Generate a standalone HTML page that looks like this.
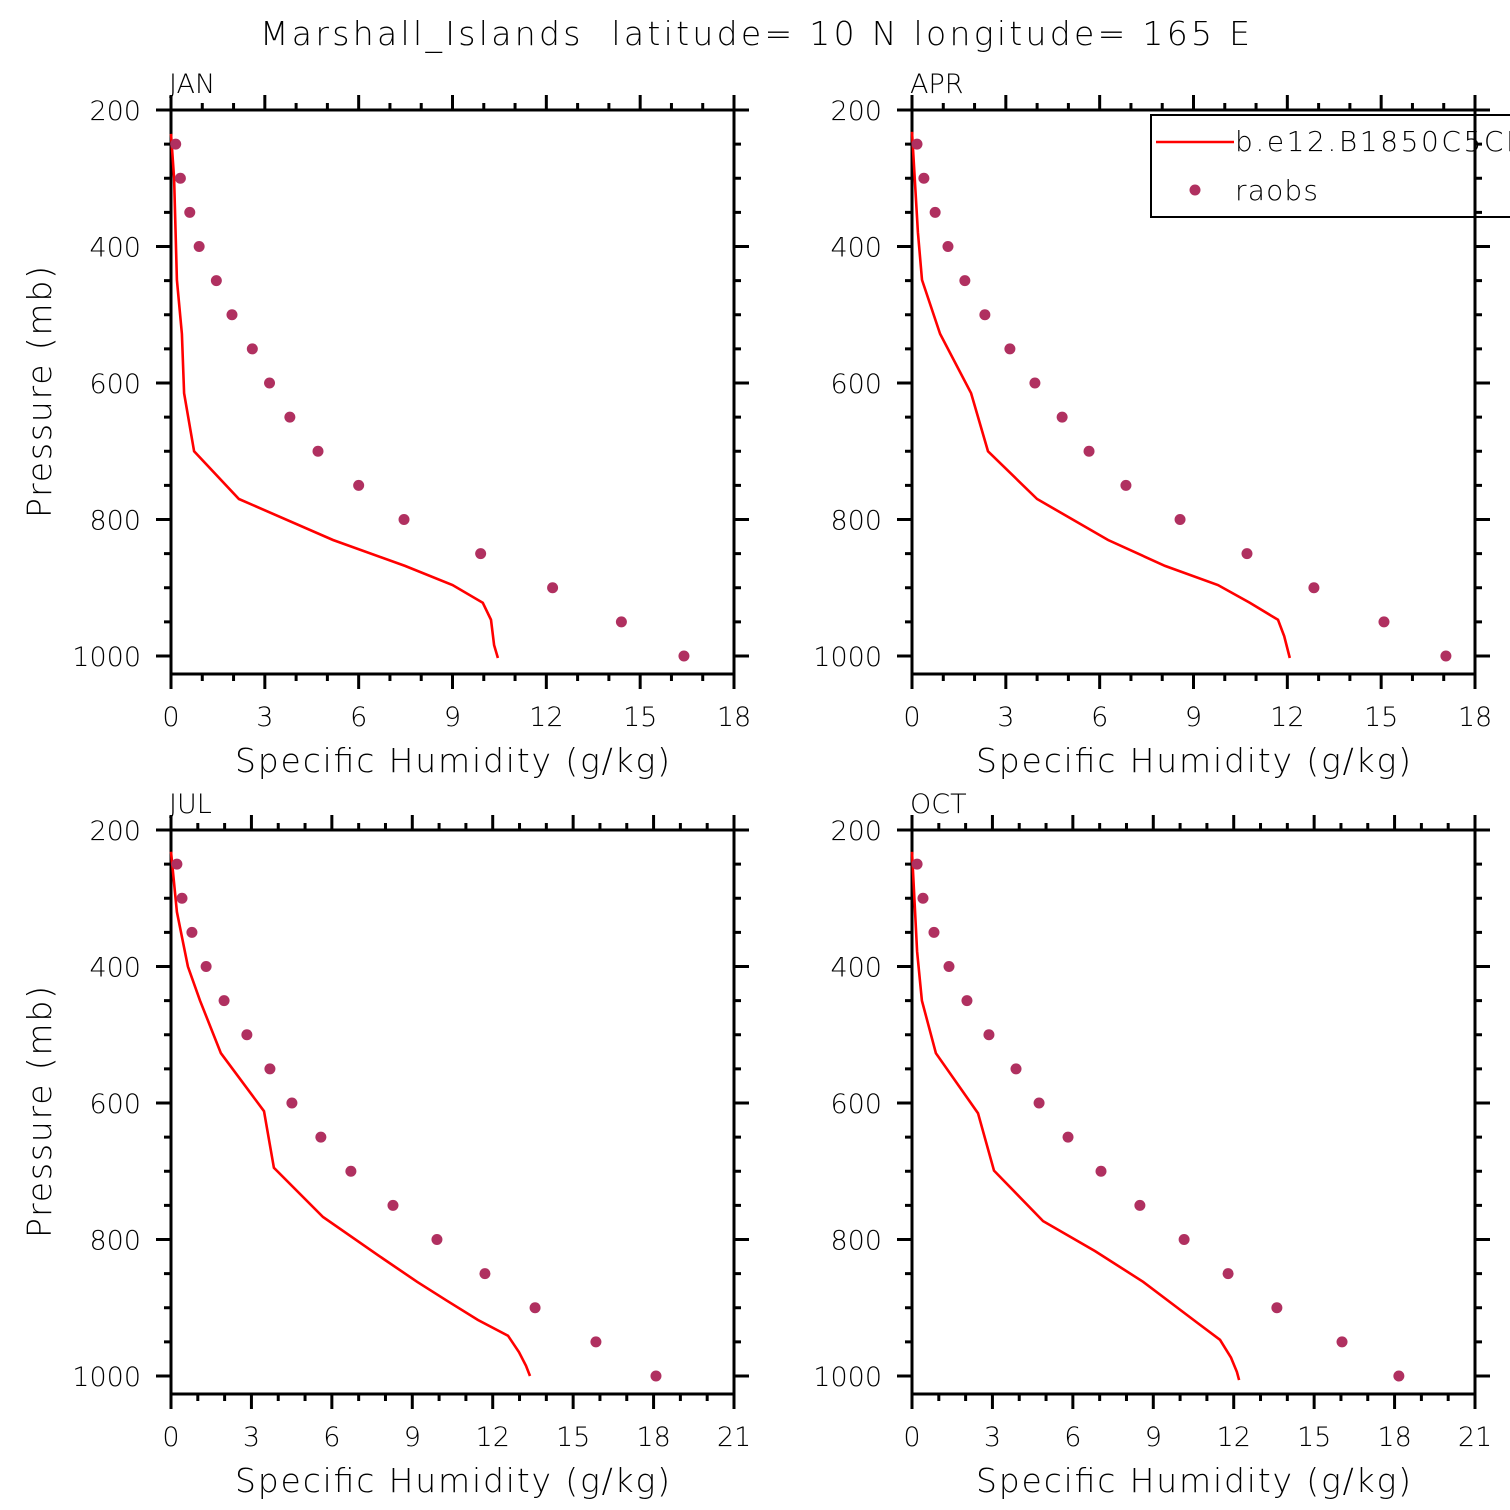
<!DOCTYPE html>
<html><head><meta charset="utf-8"><style>
html,body{margin:0;padding:0;background:#fff;}
svg{display:block;font-family:"DejaVu Sans","Liberation Sans",sans-serif;}
</style></head><body>
<svg id="chart" width="1510" height="1510" viewBox="0 0 1510 1510" xmlns="http://www.w3.org/2000/svg">
<rect width="1510" height="1510" fill="#fff"/>
<text x="260" y="45" font-size="33" font-weight="300" xml:space="preserve" textLength="990" lengthAdjust="spacing">Marshall_Islands  latitude= 10 N longitude= 165 E</text>
</svg>
<script>
const janObsP=[250,300,350,400,450,500,550,600,650,700,750,800,850,900,950,1000];
const janObsQ=[0.15,0.3,0.6,0.9,1.45,1.95,2.6,3.15,3.8,4.7,6.0,7.45,9.9,12.2,14.4,16.4];
const janModP=[235,300,449,528,615,700,770,830,868,896,922,947,984,1003];
const janModQ=[0.0,0.1,0.19,0.35,0.42,0.74,2.17,5.18,7.48,9.0,9.97,10.23,10.33,10.45];
const aprObsP=[250,300,350,400,450,500,550,600,650,700,750,800,850,900,950,1000];
const aprObsQ=[0.16,0.38,0.74,1.15,1.69,2.33,3.13,3.93,4.8,5.66,6.84,8.57,10.71,12.85,15.09,17.07];
const aprModP=[232,379,449,528,615,700,770,830,868,896,922,947,971,1003];
const aprModQ=[0,0.19,0.32,0.9,1.89,2.43,4.0,6.27,8.09,9.78,10.8,11.7,11.9,12.08];
const julObsP=[250,300,350,400,450,500,550,600,650,700,750,800,850,900,950,1000];
const julObsQ=[0.22,0.41,0.78,1.31,1.98,2.83,3.69,4.51,5.59,6.71,8.28,9.92,11.71,13.58,15.85,18.09];
const julModP=[232,320,400,450,527,612,695,767,823,862,889,918,941,965,985,1000];
const julModQ=[0,0.22,0.63,1.08,1.86,3.47,3.84,5.67,7.72,9.18,10.26,11.45,12.57,12.98,13.24,13.39];
const octObsP=[250,300,350,400,450,500,550,600,650,700,750,800,850,900,950,1000];
const octObsQ=[0.19,0.41,0.82,1.38,2.05,2.87,3.88,4.74,5.82,7.05,8.5,10.15,11.79,13.61,16.04,18.16];
const octModP=[232,378,450,527,615,699,773,817,862,923,947,973,994,1006];
const octModQ=[0,0.19,0.37,0.89,2.46,3.06,4.89,6.83,8.62,10.67,11.49,11.9,12.12,12.2];
const yTickLabels=[200,400,600,800,1000];
const xTicksTop=[0,3,6,9,12,15,18];
const xTicksBot=[0,3,6,9,12,15,18,21];

const svg=document.getElementById('chart');
const NS='http://www.w3.org/2000/svg';
function mk(tag,attrs,parent){const e=document.createElementNS(NS,tag);for(const k in attrs)e.setAttribute(k,attrs[k]);(parent||svg).appendChild(e);return e;}

const lg=mk('g',{});


mk('rect',{x:1151,y:115,width:400,height:102,fill:'#fff',stroke:'#000','stroke-width':2},lg);
mk('line',{x1:1156,y1:142,x2:1234,y2:142,stroke:'#ff0000','stroke-width':2.6},lg);
const t1=mk('text',{x:1235,y:151,'font-size':28,'font-weight':300,textLength:292,lengthAdjust:'spacing'},lg);


t1.textContent='b.e12.B1850C5CN';
mk('circle',{cx:1195,cy:190,r:5.5,fill:'#b03060'},lg);
const t2=mk('text',{x:1235,y:200,'font-size':28,'font-weight':300,textLength:83,lengthAdjust:'spacing'},lg);


t2.textContent='raobs';

function panel(name,x0,top,xmax,xticks,obsP,obsQ,modP,modQ,showY){
  const g=mk('g',{});
  
  
  const W=563, pxmb=0.6825, bottom=top+564;
  const sx=q=>x0+q*W/xmax, sy=p=>top+(p-200)*pxmb;
  const x1=x0+W;
  for(let p=200;p<=1000;p+=50){
    const major=p%200===0, L=major?15:7, y=sy(p);
    const a=mk('line',{x1:x0-L,y1:y,x2:x0,y2:y,stroke:'#000','stroke-width':3},g);
    
    
    const b=mk('line',{x1:x1,y1:y,x2:x1+L,y2:y,stroke:'#000','stroke-width':3},g);
    
    
  }
  for(let q=0;q<=xmax;q+=1){
    const major=q%3===0, L=major?15:7, x=sx(q);
    const a=mk('line',{x1:x,y1:bottom,x2:x,y2:bottom+L,stroke:'#000','stroke-width':3},g);
    
    
    const b=mk('line',{x1:x,y1:top-L,x2:x,y2:top,stroke:'#000','stroke-width':3},g);
    
    
  }
  yTickLabels.forEach(p=>{
    const t=mk('text',{x:x0-30,y:sy(p)+10,'font-size':27,'text-anchor':'end','font-weight':300},g);
    
    
    t.textContent=p;
  });
  xticks.forEach(q=>{
    const t=mk('text',{x:sx(q),y:bottom+52,'font-size':27,'text-anchor':'middle','font-weight':300},g);
    
    
    t.textContent=q;
  });
  const fr=mk('rect',{x:x0,y:top,width:W,height:bottom-top,fill:'none',stroke:'#000','stroke-width':3},g);
  
  
  const lbl=mk('text',{x:x0-2,y:top-17,'font-size':27,'font-weight':300},g);
  
  
  lbl.textContent=name;
  const xt=mk('text',{x:x0+64,y:bottom+98,'font-size':33,'font-weight':300,textLength:435,lengthAdjust:'spacing'},g);
  
  
  xt.textContent='Specific Humidity (g/kg)';
  if(showY){
    const yt=mk('text',{x:0,y:0,'font-size':33,'font-weight':300,textLength:252,lengthAdjust:'spacing',transform:`translate(${x0-120},${top+408}) rotate(-90)`},g);
    
    
    yt.textContent='Pressure (mb)';
  }
  const pts=modP.map((p,i)=>sx(modQ[i]).toFixed(1)+','+sy(p).toFixed(1)).join(' ');
  const ln=mk('polyline',{points:pts,fill:'none',stroke:'#ff0000','stroke-width':2.6},g);
  
  
  obsP.forEach((p,i)=>{
    const c=mk('circle',{cx:sx(obsQ[i]),cy:sy(p),r:5.5,fill:'#b03060'},g);
    
    
  });
}
panel('JAN',171,110,18,xTicksTop,janObsP,janObsQ,janModP,janModQ,true);
panel('APR',912,110,18,xTicksTop,aprObsP,aprObsQ,aprModP,aprModQ,false);
panel('JUL',171,830,21,xTicksBot,julObsP,julObsQ,julModP,julModQ,true);
panel('OCT',912,830,21,xTicksBot,octObsP,octObsQ,octModP,octModQ,false);
</script>
</body></html>
